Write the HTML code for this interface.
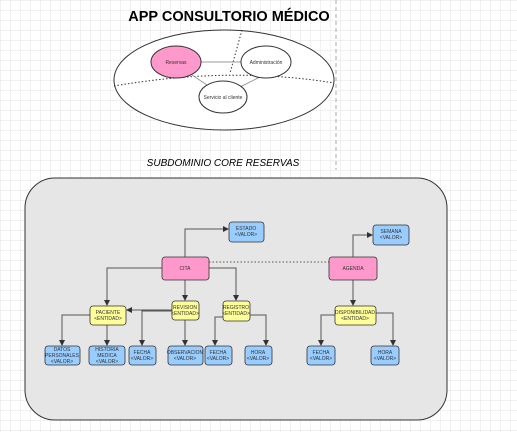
<!DOCTYPE html>
<html><head><meta charset="utf-8"><style>
html,body{margin:0;padding:0;width:517px;height:432px;overflow:hidden;background:#fff}
svg text{font-family:"Liberation Sans",sans-serif}
</style></head><body>
<svg width="517" height="432" viewBox="0 0 517 432" xmlns="http://www.w3.org/2000/svg">
<defs>
<pattern id="g" width="10" height="10" patternUnits="userSpaceOnUse"><path d="M10 0H0V10" fill="none" stroke="#e3e3e3" stroke-width="1"/></pattern>
<marker id="a" markerWidth="6" markerHeight="6" refX="5" refY="3" orient="auto" markerUnits="userSpaceOnUse"><path d="M0,0L6,3L0,6z" fill="#333"/></marker>
</defs>
<rect width="517" height="432" fill="url(#g)"/>
<line x1="336" y1="0" x2="336" y2="170" stroke="#aaa" stroke-dasharray="4,3"/>
<text x="229" y="21" text-anchor="middle" font-size="14.5" font-weight="bold">APP CONSULTORIO MÉDICO</text>
<ellipse cx="224" cy="80" rx="110" ry="50" fill="#fff" stroke="#333"/>
<path d="M242 30 L230 73" stroke="#333" stroke-dasharray="1.5,2" fill="none"/>
<path d="M114 86 Q230 66 334 83" stroke="#333" stroke-dasharray="1.5,2" fill="none"/>
<line x1="200" y1="62" x2="242" y2="62" stroke="#999"/>
<line x1="192" y1="75" x2="207" y2="85" stroke="#999"/>
<line x1="260" y1="77" x2="240" y2="87" stroke="#999"/>
<ellipse cx="176" cy="62" rx="25" ry="16" fill="#ff99cc" stroke="#333"/>
<text x="176" y="64" text-anchor="middle" font-size="5" fill="#333">Reservas</text>
<ellipse cx="266" cy="62" rx="25" ry="16" fill="#fff" stroke="#333"/>
<text x="266" y="64" text-anchor="middle" font-size="5" fill="#333">Administración</text>
<ellipse cx="223" cy="97" rx="24" ry="16" fill="#fff" stroke="#333"/>
<text x="223" y="99" text-anchor="middle" font-size="5" fill="#333">Servicio al cliente</text>
<text x="223" y="166" text-anchor="middle" font-size="10" font-style="italic">SUBDOMINIO CORE RESERVAS</text>
<rect x="25" y="178" width="422" height="242" rx="30" fill="#e6e6e6" stroke="#333"/>
<g stroke="#555" fill="none" marker-end="url(#a)">
<path d="M185 257V229H228"/>
<path d="M162 268H107V305"/>
<path d="M185 280V300"/>
<path d="M209 268H236V300"/>
<path d="M172 310H127"/>
<path d="M172 311H142V345"/>
<path d="M185 320V345"/>
<path d="M90 315H62V345"/>
<path d="M107 325V345"/>
<path d="M223 317H215V345"/>
<path d="M250 315H266V345"/>
<path d="M353 257V235H372"/>
<path d="M353 280V305"/>
<path d="M335 315H321V345"/>
<path d="M376 313H393V345"/>
</g>
<line x1="209" y1="262" x2="329" y2="262" stroke="#555" stroke-dasharray="1.5,2"/>
<g stroke="#333" stroke-width="0.8">
<rect x="162" y="257" width="47" height="23" rx="3" fill="#ff99cc"/>
<rect x="329" y="257" width="48" height="23" rx="3" fill="#ff99cc"/>
<rect x="90" y="306" width="36" height="19" rx="3" fill="#ffff99"/>
<rect x="172" y="301" width="27" height="19" rx="3" fill="#ffff99"/>
<rect x="223" y="301" width="27" height="20" rx="3" fill="#ffff99"/>
<rect x="335" y="306" width="41" height="19" rx="3" fill="#ffff99"/>
<rect x="229" y="222" width="35" height="20" rx="3" fill="#99ccff"/>
<rect x="373" y="225" width="36" height="20" rx="3" fill="#99ccff"/>
<rect x="45" y="346" width="35" height="19" rx="3" fill="#99ccff"/>
<rect x="89" y="346" width="36" height="19" rx="3" fill="#99ccff"/>
<rect x="129" y="346" width="27" height="19" rx="3" fill="#99ccff"/>
<rect x="168" y="346" width="35" height="19" rx="3" fill="#99ccff"/>
<rect x="205" y="346" width="27" height="19" rx="3" fill="#99ccff"/>
<rect x="245" y="346" width="27" height="19" rx="3" fill="#99ccff"/>
<rect x="307" y="346" width="28" height="19" rx="3" fill="#99ccff"/>
<rect x="371" y="346" width="28" height="19" rx="3" fill="#99ccff"/>
</g>
<g font-size="5" fill="#333" text-anchor="middle">
<text x="185" y="270">CITA</text>
<text x="353" y="270">AGENDA</text>
<text x="108" y="314">PACIENTE</text><text x="108" y="320">&lt;ENTIDAD&gt;</text>
<text x="185" y="309">REVISION</text><text x="185" y="315">&lt;ENTIDAD&gt;</text>
<text x="236" y="309">REGISTRO</text><text x="236" y="315">&lt;ENTIDAD&gt;</text>
<text x="355" y="314">DISPONIBILIDAD</text><text x="355" y="320">&lt;ENTIDAD&gt;</text>
<text x="246" y="230">ESTADO</text><text x="246" y="236">&lt;VALOR&gt;</text>
<text x="391" y="233">SEMANA</text><text x="391" y="239">&lt;VALOR&gt;</text>
<text x="62" y="351">DATOS</text><text x="62" y="357">PERSONALES</text><text x="62" y="363">&lt;VALOR&gt;</text>
<text x="107" y="351">HISTORIA</text><text x="107" y="357">MEDICA</text><text x="107" y="363">&lt;VALOR&gt;</text>
<text x="142" y="354">FECHA</text><text x="142" y="360">&lt;VALOR&gt;</text>
<text x="185" y="354">OBSERVACION</text><text x="185" y="360">&lt;VALOR&gt;</text>
<text x="218" y="354">FECHA</text><text x="218" y="360">&lt;VALOR&gt;</text>
<text x="258" y="354">HORA</text><text x="258" y="360">&lt;VALOR&gt;</text>
<text x="321" y="354">FECHA</text><text x="321" y="360">&lt;VALOR&gt;</text>
<text x="385" y="354">HORA</text><text x="385" y="360">&lt;VALOR&gt;</text>
</g>
</svg>
</body></html>
